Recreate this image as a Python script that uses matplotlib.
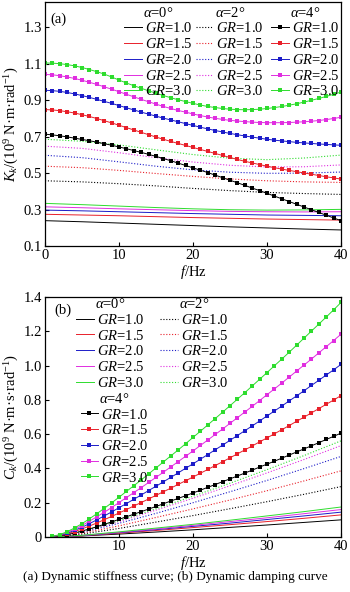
import numpy as np
import matplotlib
matplotlib.use("Agg")
import matplotlib.pyplot as plt
from matplotlib.legend import Legend

plt.rcParams["font.family"] = "Liberation Serif"
plt.rcParams["mathtext.fontset"] = "custom"
plt.rcParams["mathtext.rm"] = "Liberation Serif"
plt.rcParams["mathtext.it"] = "Liberation Serif:italic"
plt.rcParams["mathtext.bf"] = "Liberation Serif:bold"

gr_labels = ["1.0", "1.5", "2.0", "2.5", "3.0"]
alpha_labels = ["0", "2", "4"]

# ---- (a) dynamic stiffness K_k, f = 0..40 Hz
f_k4 = np.arange(0, 41)
f_k = [0, 5, 10, 15, 20, 25, 30, 35, 40]

k0_gr10 = [0.239, 0.233, 0.226, 0.219, 0.212, 0.205, 0.199, 0.193, 0.188]
k0_gr15 = [0.274, 0.270, 0.266, 0.261, 0.256, 0.252, 0.248, 0.245, 0.242]
k0_gr20 = [0.297, 0.293, 0.288, 0.283, 0.278, 0.274, 0.270, 0.268, 0.266]
k0_gr25 = [0.315, 0.310, 0.304, 0.299, 0.294, 0.290, 0.288, 0.287, 0.288]
k0_gr30 = [0.334, 0.327, 0.319, 0.311, 0.304, 0.299, 0.297, 0.298, 0.301]

k2_gr10 = [0.458, 0.452, 0.442, 0.430, 0.416, 0.404, 0.394, 0.388, 0.383]
k2_gr15 = [0.538, 0.530, 0.515, 0.498, 0.482, 0.468, 0.458, 0.452, 0.449]
k2_gr20 = [0.598, 0.585, 0.562, 0.538, 0.518, 0.505, 0.499, 0.500, 0.506]
k2_gr25 = [0.648, 0.636, 0.612, 0.585, 0.561, 0.543, 0.534, 0.535, 0.545]
k2_gr30 = [0.686, 0.675, 0.655, 0.628, 0.602, 0.582, 0.574, 0.583, 0.599]

k4_gr10 = [0.714, 0.710, 0.705, 0.699, 0.692, 0.685, 0.678, 0.670, 0.662, 0.653,
           0.644, 0.634, 0.624, 0.614, 0.603, 0.592, 0.580, 0.568, 0.555, 0.542,
           0.529, 0.516, 0.503, 0.489, 0.475, 0.461, 0.447, 0.433, 0.418, 0.404,
           0.389, 0.374, 0.359, 0.344, 0.329, 0.314, 0.299, 0.284, 0.269, 0.254, 0.239]
k4_gr15 = [0.849, 0.847, 0.843, 0.837, 0.830, 0.821, 0.811, 0.800, 0.788, 0.776,
           0.763, 0.750, 0.737, 0.724, 0.711, 0.698, 0.686, 0.674, 0.663, 0.652,
           0.641, 0.630, 0.619, 0.608, 0.597, 0.586, 0.575, 0.565, 0.556, 0.547,
           0.538, 0.530, 0.522, 0.515, 0.508, 0.501, 0.494, 0.487, 0.480, 0.474, 0.467]
k4_gr20 = [0.955, 0.953, 0.949, 0.943, 0.935, 0.926, 0.916, 0.905, 0.894, 0.883,
           0.871, 0.859, 0.847, 0.835, 0.824, 0.813, 0.802, 0.792, 0.782, 0.772,
           0.762, 0.752, 0.743, 0.734, 0.726, 0.718, 0.711, 0.704, 0.698, 0.692,
           0.686, 0.681, 0.677, 0.673, 0.669, 0.666, 0.663, 0.660, 0.658, 0.655, 0.653]
k4_gr25 = [1.042, 1.040, 1.035, 1.028, 1.020, 1.010, 0.999, 0.987, 0.974, 0.961,
           0.947, 0.933, 0.919, 0.905, 0.892, 0.879, 0.866, 0.855, 0.844, 0.835,
           0.825, 0.816, 0.808, 0.801, 0.795, 0.790, 0.786, 0.783, 0.780, 0.778,
           0.777, 0.777, 0.777, 0.778, 0.780, 0.782, 0.785, 0.789, 0.794, 0.800, 0.807]
k4_gr30 = [1.105, 1.104, 1.101, 1.096, 1.089, 1.080, 1.069, 1.057, 1.044, 1.028,
           1.011, 0.995, 0.980, 0.966, 0.952, 0.939, 0.926, 0.914, 0.903, 0.893,
           0.883, 0.874, 0.866, 0.860, 0.855, 0.851, 0.849, 0.848, 0.849, 0.851,
           0.855, 0.860, 0.866, 0.873, 0.881, 0.890, 0.900, 0.910, 0.921, 0.933, 0.945]

# ---- (b) dynamic damping C_k, f = 1..40 Hz
f_c4 = np.arange(1, 41)
f_c = [1, 5, 10, 15, 20, 25, 30, 35, 40]

c0_gr10 = [0.000, 0.006, 0.017, 0.029, 0.042, 0.056, 0.070, 0.085, 0.100]
c0_gr15 = [0.000, 0.007, 0.022, 0.038, 0.055, 0.072, 0.090, 0.109, 0.129]
c0_gr20 = [0.000, 0.008, 0.025, 0.043, 0.062, 0.081, 0.102, 0.123, 0.145]
c0_gr25 = [0.000, 0.009, 0.027, 0.047, 0.068, 0.090, 0.112, 0.136, 0.160]
c0_gr30 = [0.001, 0.010, 0.030, 0.052, 0.074, 0.098, 0.123, 0.148, 0.175]

c2_gr10 = [0.001, 0.017, 0.050, 0.087, 0.125, 0.165, 0.206, 0.249, 0.294]
c2_gr15 = [0.001, 0.022, 0.065, 0.114, 0.164, 0.216, 0.270, 0.327, 0.386]
c2_gr20 = [0.001, 0.027, 0.080, 0.138, 0.200, 0.264, 0.330, 0.399, 0.470]
c2_gr25 = [0.002, 0.030, 0.090, 0.157, 0.226, 0.299, 0.374, 0.452, 0.533]
c2_gr30 = [0.002, 0.032, 0.095, 0.165, 0.238, 0.314, 0.393, 0.475, 0.561]

c4_gr10 = [0.002, 0.006, 0.014, 0.023, 0.035, 0.047, 0.060, 0.074, 0.088, 0.103,
           0.118, 0.133, 0.148, 0.163, 0.178, 0.194, 0.210, 0.225, 0.241, 0.257,
           0.273, 0.290, 0.306, 0.323, 0.339, 0.356, 0.373, 0.390, 0.408, 0.425,
           0.442, 0.460, 0.478, 0.496, 0.514, 0.532, 0.550, 0.569, 0.587, 0.606]
c4_gr15 = [0.002, 0.008, 0.019, 0.032, 0.047, 0.064, 0.082, 0.101, 0.120, 0.140,
           0.160, 0.181, 0.201, 0.222, 0.243, 0.264, 0.285, 0.307, 0.328, 0.350,
           0.372, 0.394, 0.417, 0.439, 0.462, 0.485, 0.508, 0.531, 0.555, 0.578,
           0.602, 0.626, 0.650, 0.675, 0.699, 0.724, 0.749, 0.774, 0.799, 0.825]
c4_gr20 = [0.003, 0.010, 0.023, 0.039, 0.057, 0.078, 0.100, 0.123, 0.146, 0.171,
           0.195, 0.220, 0.245, 0.271, 0.296, 0.322, 0.348, 0.374, 0.401, 0.427,
           0.454, 0.481, 0.509, 0.536, 0.564, 0.592, 0.620, 0.648, 0.677, 0.706,
           0.735, 0.764, 0.794, 0.823, 0.853, 0.884, 0.914, 0.945, 0.975, 1.007]
c4_gr25 = [0.003, 0.012, 0.027, 0.046, 0.067, 0.092, 0.118, 0.144, 0.172, 0.201,
           0.230, 0.259, 0.288, 0.318, 0.348, 0.378, 0.409, 0.440, 0.471, 0.502,
           0.534, 0.566, 0.598, 0.630, 0.663, 0.696, 0.729, 0.762, 0.796, 0.830,
           0.864, 0.898, 0.933, 0.968, 1.003, 1.038, 1.074, 1.110, 1.146, 1.183]
c4_gr30 = [0.004, 0.014, 0.031, 0.053, 0.078, 0.106, 0.136, 0.167, 0.199, 0.232,
           0.266, 0.299, 0.333, 0.368, 0.403, 0.438, 0.473, 0.508, 0.544, 0.581,
           0.617, 0.654, 0.691, 0.728, 0.766, 0.804, 0.842, 0.881, 0.920, 0.959,
           0.999, 1.038, 1.078, 1.119, 1.160, 1.201, 1.242, 1.283, 1.325, 1.368]

colors = ["#000000", "#e8202a", "#1c1cc8", "#e02ee0", "#2edc2e"]
dots = (0, (1, 1.6))


def draw_groups(ax, f_line, g0, g2, f_mark, g4):
    h0, h2, h4 = [], [], []
    for y, c in zip(g0, colors):
        h0.append(ax.plot(f_line, y, color=c, lw=0.7)[0])
    for y, c in zip(g2, colors):
        h2.append(ax.plot(f_line, y, color=c, lw=0.8, ls=dots)[0])
    for y, c in zip(g4, colors):
        h4.append(ax.plot(f_mark, y, color=c, lw=0.7, marker="s", ms=2.3, mew=0)[0])
    return h0, h2, h4


def add_legend(ax, handles, title, x, y):
    labels = [r"$GR$=" + g for g in gr_labels]
    leg = Legend(ax, handles, labels, title=title, loc="upper left",
                 bbox_to_anchor=(x, y), bbox_transform=ax.transAxes,
                 frameon=False, fontsize=10.5, title_fontsize=10.5,
                 borderaxespad=0, borderpad=0, numpoints=1, markerscale=0.95,
                 handlelength=1.2, handletextpad=0.2, labelspacing=0.12)
    ax.add_artist(leg)


fig = plt.figure(figsize=(3.5, 5.92), dpi=100)
ax1 = fig.add_axes([0.1286, 0.5845, 0.8457, 0.4122])
ax2 = fig.add_axes([0.1286, 0.0929, 0.8457, 0.4054])

# (a)
h0, h2, h4 = draw_groups(ax1, f_k,
                         [k0_gr10, k0_gr15, k0_gr20, k0_gr25, k0_gr30],
                         [k2_gr10, k2_gr15, k2_gr20, k2_gr25, k2_gr30],
                         f_k4,
                         [k4_gr10, k4_gr15, k4_gr20, k4_gr25, k4_gr30])
add_legend(ax1, h0, r"$\alpha$=" + alpha_labels[0] + "°", 0.268, 0.985)
add_legend(ax1, h2, r"$\alpha$=" + alpha_labels[1] + "°", 0.51, 0.985)
add_legend(ax1, h4, r"$\alpha$=" + alpha_labels[2] + "°", 0.765, 0.985)
ax1.set_xlim(0, 40)
ax1.set_ylim(0.1, 1.44)
ax1.set_xticks([0, 10, 20, 30, 40])
ax1.set_yticks([0.1, 0.3, 0.5, 0.7, 0.9, 1.1, 1.3])
ax1.set_xlabel(r"$f$/Hz", fontsize=10.5, labelpad=1)
ax1.set_ylabel(r"$K_k$/(10$^9$ N·m·rad$^{-1}$)", fontsize=10.5, labelpad=2)
ax1.text(0.017, 0.915, "(a)", transform=ax1.transAxes, fontsize=10.5)

# (b)
h0, h2, h4 = draw_groups(ax2, f_c,
                         [c0_gr10, c0_gr15, c0_gr20, c0_gr25, c0_gr30],
                         [c2_gr10, c2_gr15, c2_gr20, c2_gr25, c2_gr30],
                         f_c4,
                         [c4_gr10, c4_gr15, c4_gr20, c4_gr25, c4_gr30])
add_legend(ax2, h0, r"$\alpha$=" + alpha_labels[0] + "°", 0.105, 1.0)
add_legend(ax2, h2, r"$\alpha$=" + alpha_labels[1] + "°", 0.39, 1.0)
add_legend(ax2, h4, r"$\alpha$=" + alpha_labels[2] + "°", 0.12, 0.605)
ax2.set_xlim(0, 40)
ax2.set_ylim(0, 1.4)
ax2.set_xticks([10, 20, 30, 40])
ax2.set_yticks([0, 0.2, 0.4, 0.6, 0.8, 1.0, 1.2, 1.4])
ax2.set_yticklabels(["0", "0.2", "0.4", "0.6", "0.8", "1.0", "1.2", "1.4"])
ax2.set_xlabel(r"$f$/Hz", fontsize=10.5, labelpad=1)
ax2.set_ylabel(r"$C_k$/(10$^9$ N·m·s·rad$^{-1}$)", fontsize=10.5, labelpad=2)
ax2.text(0.03, 0.93, "(b)", transform=ax2.transAxes, fontsize=10.5)

for ax in (ax1, ax2):
    ax.tick_params(direction="in", length=3, width=0.8, labelsize=10.5, pad=2)
    for s in ax.spines.values():
        s.set_linewidth(0.9)

fig.text(0.5, 1 - 577 / 592, "(a) Dynamic stiffness curve; (b) Dynamic damping curve",
         ha="center", va="center", fontsize=9.5)

fig.savefig("out.png", dpi=100)
